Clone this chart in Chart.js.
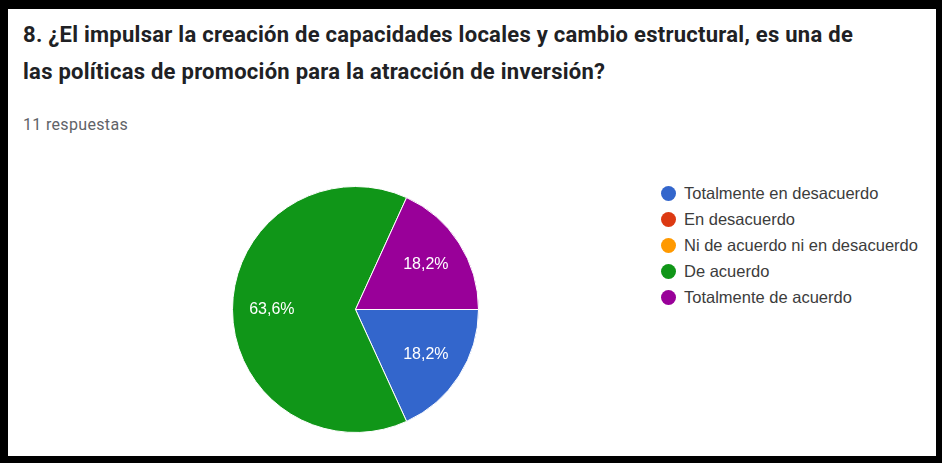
<!DOCTYPE html>
<html>
<head>
<meta charset="utf-8">
<script src="https://cdn.jsdelivr.net/npm/chart.js@4/dist/chart.umd.min.js"></script>
<style>
  html, body { margin: 0; padding: 0; background: #000; }
  #frame { position: relative; width: 942px; height: 463px; background: #000; }
  #card { position: absolute; left: 8px; top: 9px; right: 6px; bottom: 7px; background: #fff; }
  #title {
    position: absolute; left: 23px; top: 16px; width: 915px; white-space: nowrap;
    font-family: Roboto, "Liberation Sans", Arial, sans-serif; font-weight: 700;
    font-size: 22px; line-height: 37px; color: #202124;
  }
  #count {
    position: absolute; left: 23px; top: 115px; line-height: 20px; white-space: nowrap;
    font-family: Roboto, "Liberation Sans", Arial, sans-serif;
    font-size: 16px; color: #5f6368;
  }
  #pieBox { position: absolute; left: 232px; top: 186px; width: 247px; height: 247px; }
  #legend { position: absolute; left: 661px; top: 180px; font-family: "Liberation Sans", Arial, sans-serif; font-size: 16.5px; color: #3c3c3c; }
  .item { position: relative; height: 26px; line-height: 26px; padding-left: 23px; white-space: nowrap; }
  .dot { position: absolute; left: 0; top: 5.5px; width: 15px; height: 15px; border-radius: 50%; }
</style>
</head>
<body>
<div id="frame">
  <div id="card"></div>
  <div id="title"></div>
  <div id="count"></div>
  <div id="pieBox"><canvas id="c"></canvas></div>
  <div id="legend"></div>
</div>
<script>
const titleLines = [
  "8. ¿El impulsar la creación de capacidades locales y cambio estructural, es una de",
  "las políticas de promoción para la atracción de inversión?"
];
const responsesText = "11 respuestas";
const categories = [
  "Totalmente en desacuerdo",
  "En desacuerdo",
  "Ni de acuerdo ni en desacuerdo",
  "De acuerdo",
  "Totalmente de acuerdo"
];
const counts = [2, 0, 0, 7, 2];
const colors = ["#3366cc", "#dc3912", "#ff9900", "#109618", "#990099"];

// fit text widths to the reference widths via letter-spacing
function fitSpacing(el, text, font, targetWidth) {
  const cv = document.createElement('canvas').getContext('2d');
  cv.font = font;
  const w = cv.measureText(text).width;
  el.style.letterSpacing = ((targetWidth - w) / text.length).toFixed(3) + 'px';
}

const titleEl = document.getElementById('title');
titleEl.innerHTML = titleLines.join('<br>');
const countEl = document.getElementById('count');
countEl.textContent = responsesText;

const legend = document.getElementById('legend');
categories.forEach((cat, i) => {
  const d = document.createElement('div');
  d.className = 'item';
  d.innerHTML = '<span class="dot" style="background:' + colors[i] + '"></span>' + cat;
  legend.appendChild(d);
});

document.fonts.load('700 22px Roboto').then(() => document.fonts.load('16px Roboto')).finally(() => {
  fitSpacing(titleEl, titleLines[0], '700 22px Roboto', 830);
  fitSpacing(countEl, responsesText, '16px Roboto', 105);
});

const sliceLabels = {
  id: 'sliceLabels',
  afterDatasetsDraw(chart) {
    const ctx = chart.ctx;
    const meta = chart.getDatasetMeta(0);
    const data = chart.data.datasets[0].data;
    const total = data.reduce((a, b) => a + b, 0);
    ctx.save();
    ctx.fillStyle = '#ffffff';
    ctx.font = '16px "Liberation Sans", Arial, sans-serif';
    ctx.textAlign = 'center';
    ctx.textBaseline = 'middle';
    meta.data.forEach((arc, i) => {
      if (!data[i]) return;
      const p = arc.getProps(['x', 'y', 'startAngle', 'endAngle', 'outerRadius'], true);
      const mid = (p.startAngle + p.endAngle) / 2;
      const r = p.outerRadius * 0.68;
      const pct = (data[i] / total * 100).toFixed(1).replace('.', ',') + '%';
      ctx.fillText(pct, p.x + Math.cos(mid) * r, p.y + Math.sin(mid) * r);
    });
    ctx.restore();
  }
};

new Chart(document.getElementById('c'), {
  type: 'pie',
  data: {
    labels: categories,
    datasets: [{
      data: counts,
      backgroundColor: colors,
      borderColor: '#ffffff',
      borderWidth: 1
    }]
  },
  options: {
    responsive: true,
    maintainAspectRatio: false,
    animation: false,
    rotation: 90,
    layout: { padding: 0 },
    plugins: { legend: { display: false }, tooltip: { enabled: false } }
  },
  plugins: [sliceLabels]
});
</script>
</body>
</html>
